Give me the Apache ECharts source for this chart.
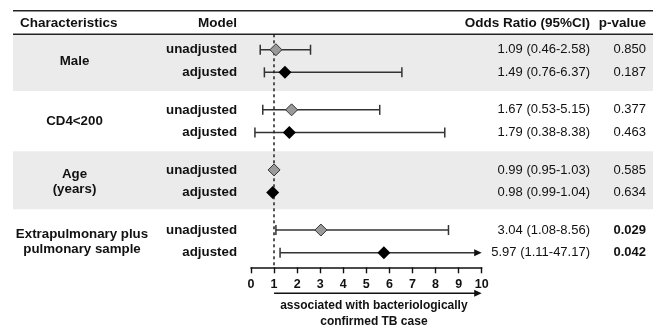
<!DOCTYPE html>
<html><head><meta charset="utf-8">
<script src="https://cdn.jsdelivr.net/npm/echarts@6/dist/echarts.min.js"></script>
<style>html,body{margin:0;padding:0;background:#fff}#c{width:660px;height:328px}</style>
</head><body><div id="c"></div>
<script>
// ---------------- data ----------------
const groups = ['Male', 'CD4<200', 'Age\n(years)', 'Extrapulmonary plus\npulmonary sample'];
const models = ['unadjusted', 'adjusted'];
const orPoint = [1.08, 1.47, 1.76, 1.66, 1.00, 0.94, 3.03, 5.76];
const ciLow   = [0.40, 0.58, 0.51, 0.17, null, null, 1.08, 1.26];
const ciHigh  = [2.58, 6.54, 5.58, 8.40, null, null, 8.56, 47.17];
const orText = ['1.09 (0.46-2.58)', '1.49 (0.76-6.37)', '1.67 (0.53-5.15)', '1.79 (0.38-8.38)',
                '0.99 (0.95-1.03)', '0.98 (0.99-1.04)', '3.04 (1.08-8.56)', '5.97 (1.11-47.17)'];
const pText = ['0.850', '0.187', '0.377', '0.463', '0.585', '0.634', '0.029', '0.042'];
const pBold = [false, false, false, false, false, false, true, true];
const headers = ['Characteristics', 'Model', 'Odds Ratio (95%CI)', 'p-value'];
const xMin = 0, xMax = 10, xStep = 1;
const refValue = 1;
const arrowText = 'associated with bacteriologically\nconfirmed TB case';

// ---------------- layout ----------------
const FONT = '"Liberation Sans", Arial, Helvetica, sans-serif';
const OFF = 0.188;
const rowY = i => Math.floor(i / 2) + (i % 2 === 0 ? -OFF : OFF);
const TABLE_L = 13, TABLE_R = 653;
const TOP_LINE = 10.7, HEAD_LINE = 34.3;
const groupLabelX = [74.5, 74.5, 74.5, 82];
const Y_MIN = -0.445, Y_MAX = 3.432;

const chart = echarts.init(document.getElementById('c'), null, {renderer: 'canvas'});

const idx = orPoint.map((_, i) => i);
const whiskerData = idx.filter(i => ciLow[i] != null).map(i => [ciLow[i], ciHigh[i], rowY(i)]);
const unadjData = idx.filter(i => i % 2 === 0).map(i => [orPoint[i], rowY(i)]);
const adjData = idx.filter(i => i % 2 === 1).map(i => [orPoint[i], rowY(i)]);

chart.setOption({
  animation: false,
  backgroundColor: '#fff',
  grid: {left: 251, top: HEAD_LINE, width: 230.7, height: 233, containLabel: false},
  xAxis: {
    type: 'value', min: xMin, max: xMax, interval: xStep, position: 'bottom',
    axisLine: {show: true, onZero: false, lineStyle: {color: '#111', width: 1.6}},
    axisTick: {show: true, inside: false, length: 6, lineStyle: {color: '#111', width: 1.4}},
    axisLabel: {show: true, margin: 11, color: '#111', fontWeight: 'bold', fontSize: 12.5, fontFamily: FONT},
    splitLine: {show: false}
  },
  yAxis: {type: 'value', inverse: true, min: Y_MIN, max: Y_MAX, show: false},
  series: [
    {
      type: 'custom', z: 3,
      data: whiskerData,
      encode: {x: [0, 1], y: 2},
      renderItem(params, api) {
        const lo = api.value(0), hi = api.value(1), y = api.value(2);
        const a = api.coord([lo, y]);
        const b = api.coord([Math.min(hi, xMax), y]);
        const st = {stroke: '#333', lineWidth: 1.5};
        const arrow = hi > xMax;
        const ch = [];
        ch.push({type: 'line', shape: {x1: a[0], y1: a[1], x2: arrow ? b[0] - 6 : b[0], y2: b[1]}, style: st});
        ch.push({type: 'line', shape: {x1: a[0], y1: a[1] - 5, x2: a[0], y2: a[1] + 5}, style: st});
        if (arrow) {
          ch.push({type: 'polygon', shape: {points: [[b[0], b[1]], [b[0] - 7.5, b[1] - 3.5], [b[0] - 7.5, b[1] + 3.5]]}, style: {fill: '#111'}});
        } else {
          ch.push({type: 'line', shape: {x1: b[0], y1: b[1] - 5, x2: b[0], y2: b[1] + 5}, style: st});
        }
        return {type: 'group', children: ch};
      }
    },
    {
      type: 'scatter', z: 5, name: models[0],
      symbol: 'diamond', symbolSize: 12,
      itemStyle: {color: '#9a9a9a', borderColor: '#333', borderWidth: 1, opacity: 1},
      data: unadjData,
      markLine: {
        silent: true, symbol: 'none', animation: false,
        label: {show: false},
        lineStyle: {type: [3, 3], color: '#222', width: 1.5},
        data: [{xAxis: refValue}]
      }
    },
    {
      type: 'scatter', z: 6, name: models[1],
      symbol: 'diamond', symbolSize: 13,
      itemStyle: {color: '#000', opacity: 1},
      data: adjData
    }
  ]
});

// ---------------- table / decorations ----------------
const px = v => chart.convertToPixel({xAxisIndex: 0}, v);
const py = v => chart.convertToPixel({yAxisIndex: 0}, v);
const g = [];
// gray bands
[0, 2].forEach(k => {
  const y0 = k === 0 ? HEAD_LINE : py(k - 0.5);
  const y1 = py(k + 0.5) - (k === 2 ? 2 : 0);
  g.push({type: 'rect', z: -10, silent: true, shape: {x: TABLE_L, y: y0, width: TABLE_R - TABLE_L, height: y1 - y0}, style: {fill: '#ebebeb'}});
});
// rules
[TOP_LINE, HEAD_LINE].forEach(y => g.push({type: 'line', z: 10, shape: {x1: TABLE_L, y1: y, x2: TABLE_R, y2: y}, style: {stroke: '#222', lineWidth: 1.6}}));
const txt = (text, x, y, align, weight, size, extra) => g.push({type: 'text', z: 20, style: Object.assign({
  text, x, y, textAlign: align, textVerticalAlign: 'middle', fill: '#111',
  font: `${weight} ${size}px ${FONT}`}, extra || {})});
// headers
const HY = 23;
txt(headers[0], 20, HY, 'left', 'bold', 13.5);
txt(headers[1], 237, HY, 'right', 'bold', 13.5);
txt(headers[2], 590, HY, 'right', 'bold', 13.5);
txt(headers[3], 646, HY, 'right', 'bold', 13.5);
// groups
groups.forEach((s, k) => txt(s, groupLabelX[k], py(k) + 0.5, 'center', 'bold', 13.3, {lineHeight: 15.5}));
// rows
orPoint.forEach((_, i) => {
  const y = py(rowY(i));
  txt(models[i % 2], 237, y, 'right', 'bold', 13.3);
  txt(orText[i], 590, y, 'right', 'normal', 13);
  txt(pText[i], 646, y, 'right', pBold[i] ? 'bold' : 'normal', 13);
});
// bottom arrow
const axisY = py(Y_MAX);
const ay = axisY + 26;
const ax0 = px(refValue), ax1 = px(xMax);
g.push({type: 'line', z: 10, shape: {x1: ax0, y1: ay, x2: ax1 - 6, y2: ay}, style: {stroke: '#111', lineWidth: 1.5}});
g.push({type: 'polygon', z: 10, shape: {points: [[ax1, ay], [ax1 - 7.5, ay - 3.5], [ax1 - 7.5, ay + 3.5]]}, style: {fill: '#111'}});
txt(arrowText, (ax0 + ax1) / 2 - 4, ay + 20.5, 'center', 'bold', 12, {lineHeight: 16});

chart.setOption({graphic: {elements: g}});
</script>
</body></html>
